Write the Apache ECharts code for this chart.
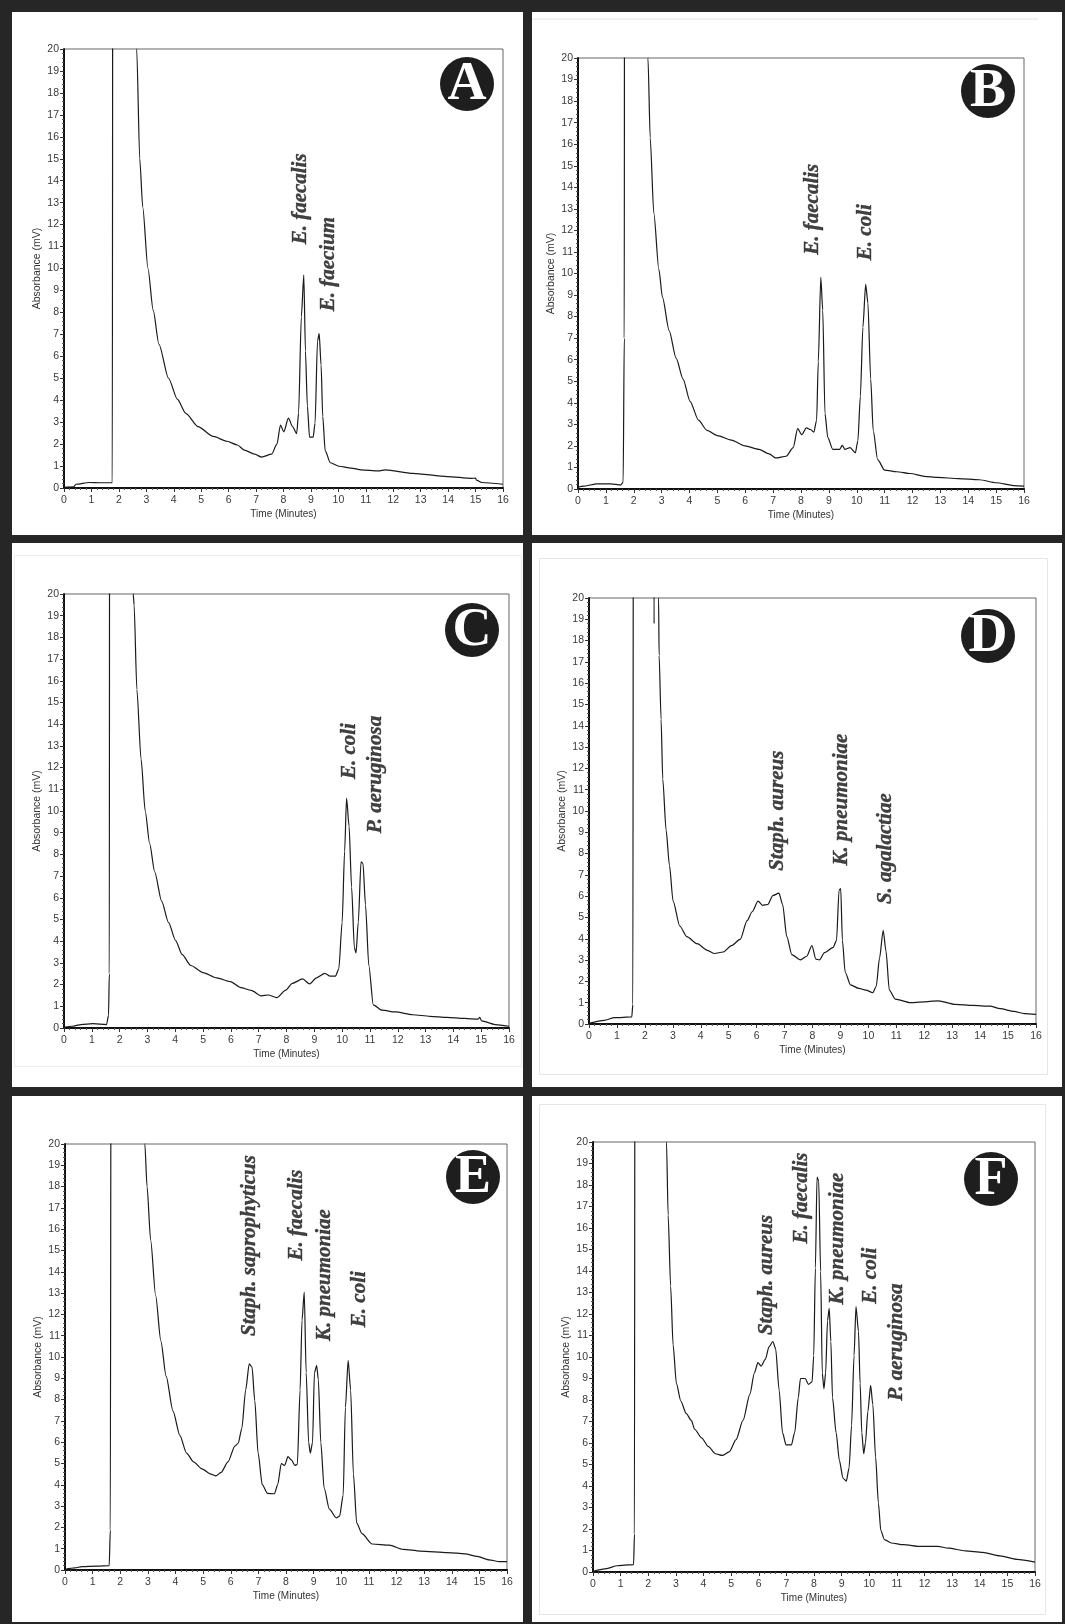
<!DOCTYPE html>
<html>
<head>
<meta charset="utf-8">
<title>HPLC chromatograms A-F</title>
<script src="https://cdn.jsdelivr.net/npm/echarts@6.0.0/dist/echarts.min.js"></script>
<style>
  html, body { margin: 0; padding: 0; background: #262626; }
  #chart { width: 1065px; height: 1624px; }
</style>
</head>
<body>
<div id="chart"></div>
<script>
// traces: [time (min), absorbance (mV)]; values above 20 are off-scale (clipped)
const traceA = [
  [0, 0.03], [0.36, 0.05], [0.43, 0.17], [0.93, 0.25], [1.3, 0.24], [1.76, 0.24], [1.78, 30],
  [2.64, 30], [2.65, 20], [2.76, 15], [2.87, 12.8], [3.06, 10], [3.25, 8.1], [3.46, 6.55],
  [3.81, 5.0], [4.13, 4.05], [4.44, 3.4], [4.88, 2.8], [5.44, 2.35], [5.94, 2.13], [6.32, 1.96],
  [6.57, 1.73], [6.95, 1.54], [7.2, 1.41], [7.57, 1.54], [7.76, 2.0], [7.89, 2.87], [8.01, 2.56],
  [8.18, 3.18], [8.33, 2.8], [8.48, 2.48], [8.55, 3.42], [8.65, 7.8], [8.74, 9.7], [8.8, 6.24],
  [8.87, 3.73], [8.95, 2.32], [9.08, 2.32], [9.15, 2.95], [9.24, 6.7], [9.3, 7.03], [9.37, 5.6],
  [9.43, 3.26], [9.52, 1.69], [9.71, 1.15], [10.02, 0.99], [10.46, 0.91], [10.83, 0.83],
  [11.46, 0.78], [11.71, 0.83], [12.71, 0.67], [13.97, 0.52], [14.85, 0.44], [15.0, 0.45],
  [15.03, 0.36], [15.22, 0.25], [16, 0.17]
];
const traceB = [
  [0, 0.08], [0.19, 0.13], [0.68, 0.24], [1.17, 0.24], [1.54, 0.19], [1.62, 0.32], [1.66, 7.0],
  [1.67, 30], [2.5, 30], [2.51, 20], [2.59, 16.3], [2.72, 12.8], [2.9, 10.2], [3.03, 8.9],
  [3.27, 7.35], [3.52, 6.07], [3.77, 5.1], [4.02, 4.07], [4.32, 3.2], [4.63, 2.72], [5.0, 2.48],
  [5.5, 2.27], [5.99, 2.0], [6.49, 1.84], [6.86, 1.63], [7.1, 1.44], [7.47, 1.52], [7.72, 1.92],
  [7.88, 2.8], [8.03, 2.52], [8.19, 2.84], [8.34, 2.76], [8.46, 2.64], [8.56, 3.19], [8.62, 5.9],
  [8.71, 9.82], [8.78, 8.3], [8.86, 3.51], [8.96, 2.4], [9.14, 1.84], [9.39, 1.84], [9.48, 2.03],
  [9.57, 1.84], [9.76, 1.92], [9.95, 1.68], [10.04, 2.24], [10.13, 4.31], [10.22, 7.5],
  [10.32, 9.5], [10.4, 8.63], [10.5, 5.11], [10.59, 2.72], [10.75, 1.36], [11.0, 0.88],
  [11.43, 0.8], [11.92, 0.72], [12.42, 0.59], [12.91, 0.54], [13.65, 0.48], [14.39, 0.43],
  [15.01, 0.29], [15.63, 0.16], [16, 0.13]
];
const traceC = [
  [0, 0.03], [0.3, 0.08], [0.61, 0.16], [1.04, 0.2], [1.53, 0.16], [1.6, 0.58], [1.63, 2.5],
  [1.64, 30], [2.47, 30], [2.49, 20], [2.52, 19.5], [2.62, 15.6], [2.77, 12.4], [2.92, 10],
  [3.08, 8.5], [3.26, 7.2], [3.51, 5.85], [3.76, 4.86], [4.01, 4.04], [4.25, 3.38], [4.56, 2.88],
  [5.0, 2.55], [5.49, 2.31], [5.98, 2.14], [6.36, 1.86], [6.73, 1.73], [7.1, 1.48], [7.34, 1.52],
  [7.65, 1.4], [7.96, 1.73], [8.21, 2.06], [8.58, 2.26], [8.83, 2.03], [9.08, 2.31], [9.38, 2.52],
  [9.57, 2.39], [9.76, 2.39], [9.88, 2.72], [10.0, 4.86], [10.09, 8.15], [10.16, 10.59],
  [10.25, 9.3], [10.34, 6.5], [10.44, 3.7], [10.5, 3.46], [10.58, 4.86], [10.68, 7.66],
  [10.75, 7.58], [10.84, 5.68], [10.96, 2.88], [11.12, 1.07], [11.43, 0.82], [11.92, 0.74],
  [12.54, 0.61], [13.16, 0.54], [13.77, 0.49], [14.39, 0.44], [14.89, 0.41], [14.95, 0.49],
  [15.01, 0.33], [15.5, 0.16], [16, 0.08]
];
const traceD = [
  [0, 0.03], [0.54, 0.17], [0.91, 0.3], [1.53, 0.33], [1.57, 0.92], [1.59, 30], [2.3, 30],
  [2.33, 18.8], [2.35, 30], [2.47, 30], [2.49, 20], [2.51, 17.3], [2.58, 14.3], [2.64, 11.5],
  [2.76, 9.1], [2.88, 7.45], [3.01, 5.77], [3.25, 4.6], [3.5, 4.1], [3.87, 3.77], [4.24, 3.46],
  [4.49, 3.31], [4.8, 3.38], [5.1, 3.68], [5.41, 3.97], [5.66, 4.85], [5.84, 5.27], [6.05, 5.77],
  [6.21, 5.57], [6.4, 5.61], [6.58, 6.03], [6.8, 6.14], [6.93, 5.61], [7.08, 4.1], [7.26, 3.26],
  [7.57, 3.01], [7.79, 3.18], [7.98, 3.68], [8.12, 3.05], [8.25, 3.01], [8.43, 3.35], [8.74, 3.6],
  [8.86, 3.93], [8.95, 6.28], [9.01, 6.36], [9.07, 3.93], [9.17, 2.43], [9.36, 1.84], [9.66, 1.67],
  [9.91, 1.59], [10.16, 1.47], [10.28, 1.76], [10.4, 3.1], [10.53, 4.4], [10.63, 3.43],
  [10.75, 1.59], [10.96, 1.17], [11.51, 1.0], [12.13, 1.05], [12.5, 1.09], [13.12, 0.92],
  [13.73, 0.87], [14.35, 0.84], [14.72, 0.72], [15.21, 0.59], [15.58, 0.49], [16, 0.45]
];
const traceE = [
  [0, 0.03], [0.36, 0.1], [0.61, 0.16], [1.17, 0.18], [1.6, 0.2], [1.64, 1.87], [1.67, 30],
  [2.87, 30], [2.89, 20], [2.97, 18], [3.1, 15.5], [3.28, 12.9], [3.47, 10.75], [3.66, 9.1],
  [3.91, 7.46], [4.16, 6.31], [4.4, 5.49], [4.65, 5.08], [4.96, 4.75], [5.28, 4.5], [5.46, 4.42],
  [5.65, 4.58], [5.9, 5.08], [6.15, 5.82], [6.27, 5.95], [6.4, 6.64], [6.54, 8.45], [6.67, 9.68],
  [6.77, 9.52], [6.87, 7.95], [6.99, 5.49], [7.14, 4.01], [7.33, 3.6], [7.58, 3.58], [7.7, 4.01],
  [7.83, 5.0], [7.95, 4.91], [8.07, 5.32], [8.2, 5.16], [8.32, 4.91], [8.41, 4.96], [8.51, 8.45],
  [8.58, 11.73], [8.66, 13.05], [8.73, 9.27], [8.82, 5.98], [8.88, 5.49], [8.96, 5.98],
  [9.03, 9.27], [9.11, 9.6], [9.17, 8.94], [9.26, 5.98], [9.38, 3.85], [9.57, 2.86], [9.82, 2.45],
  [9.94, 2.53], [10.07, 3.52], [10.15, 7.63], [10.25, 9.84], [10.34, 8.45], [10.44, 4.5],
  [10.56, 2.2], [10.75, 1.71], [11.12, 1.22], [11.74, 1.17], [12.24, 0.97], [12.86, 0.89],
  [13.86, 0.82], [14.48, 0.76], [14.92, 0.64], [15.35, 0.48], [15.73, 0.39], [16, 0.39]
];
const traceF = [
  [0, 0.03], [0.5, 0.16], [0.87, 0.29], [1.25, 0.33], [1.47, 0.34], [1.5, 1.76], [1.52, 30],
  [2.64, 30], [2.66, 20], [2.72, 16.6], [2.81, 13.3], [2.9, 10.55], [3.02, 8.76], [3.18, 7.95],
  [3.37, 7.38], [3.56, 7.05], [3.68, 6.64], [3.93, 6.24], [4.18, 5.83], [4.43, 5.5], [4.68, 5.42],
  [4.93, 5.59], [5.18, 6.16], [5.43, 7.05], [5.68, 8.27], [5.84, 9.25], [5.97, 9.74], [6.09, 9.58],
  [6.24, 9.9], [6.37, 10.47], [6.51, 10.72], [6.61, 10.39], [6.74, 8.44], [6.86, 6.48],
  [6.99, 5.91], [7.18, 5.91], [7.3, 6.48], [7.43, 8.11], [7.51, 9.0], [7.68, 9.0], [7.8, 8.73],
  [7.93, 8.84], [7.99, 10.07], [8.05, 14.14], [8.11, 18.37], [8.17, 18.2], [8.24, 13.97],
  [8.3, 9.25], [8.36, 8.52], [8.42, 9.25], [8.49, 11.69], [8.55, 12.26], [8.61, 10.72],
  [8.67, 8.11], [8.8, 6.48], [8.92, 5.18], [9.05, 4.36], [9.17, 4.23], [9.27, 4.85], [9.36, 6.81],
  [9.45, 10.07], [9.52, 12.35], [9.61, 11.2], [9.67, 8.76], [9.73, 6.48], [9.8, 5.5], [9.86, 5.99],
  [9.95, 7.46], [10.05, 8.68], [10.13, 7.78], [10.23, 5.34], [10.33, 3.22], [10.42, 1.92],
  [10.55, 1.51], [10.8, 1.35], [11.23, 1.27], [11.86, 1.19], [12.48, 1.19], [12.86, 1.11],
  [13.48, 0.98], [14.1, 0.91], [14.73, 0.75], [15.35, 0.59], [16, 0.46]
];

// peak labels: [time, absorbance where the text starts, name]
const peaksA = [[8.64, 11.1, 'E. faecalis'], [9.65, 8.05, 'E. faecium']];
const peaksB = [[8.40, 10.87, 'E. faecalis'], [10.32, 10.62, 'E. coli']];
const peaksC = [[10.28, 11.47, 'E. coli'], [11.22, 8.97, 'P. aeruginosa']];
const peaksD = [[6.75, 7.19, 'Staph. aureus'], [9.03, 7.44, 'K. pneumoniae'], [10.60, 5.63, 'S. agalactiae']];
const peaksE = [[6.68, 10.99, 'Staph. saprophyticus'], [8.39, 14.53, 'E. faecalis'],
  [9.40, 10.75, 'K. pneumoniae'], [10.67, 11.4, 'E. coli']];
const peaksF = [[6.29, 11.02, 'Staph. aureus'], [7.56, 15.28, 'E. faecalis'],
  [8.84, 12.44, 'K. pneumoniae'], [10.05, 12.48, 'E. coli'], [10.98, 7.96, 'P. aeruginosa']];

const panelLetters = ['A', 'B', 'C', 'D', 'E', 'F'];
const xTicks = [0, 16, 1];   // min, max, step (minutes)
const yTicks = [0, 20, 1];   // min, max, step (mV)

const traces = [traceA, traceB, traceC, traceD, traceE, traceF];
const peaks = [peaksA, peaksB, peaksC, peaksD, peaksE, peaksF];

// layout of each chromatogram (px)
const grids = [
  { left: 64, top: 49, width: 439, height: 439 },
  { left: 578, top: 58, width: 446, height: 431 },
  { left: 64, top: 594, width: 445, height: 434 },
  { left: 589, top: 598, width: 447, height: 426 },
  { left: 65, top: 1144, width: 442, height: 426 },
  { left: 593, top: 1142, width: 442, height: 430 }
];
const panels = [
  [12, 12, 511, 523], [532, 12, 530, 523],
  [12, 543, 511, 544], [532, 543, 530, 544],
  [12, 1096, 511, 526], [532, 1096, 530, 526]
];
const badges = [[467, 84], [988, 91], [472, 630], [988, 636], [473, 1177], [991, 1179]];

const tickFont = { fontFamily: 'Liberation Sans', fontSize: 10.5, color: '#3a3a3a' };

function makeX(i) {
  return {
    type: 'value', gridIndex: i,
    min: xTicks[0], max: xTicks[1], interval: xTicks[2],
    name: 'Time (Minutes)', nameLocation: 'middle', nameGap: 21,
    nameTextStyle: { fontFamily: 'Liberation Sans', fontSize: 10, color: '#333' },
    axisLine: { onZero: false, lineStyle: { color: '#111', width: 2 } },
    axisTick: { length: 4, lineStyle: { color: '#333' } },
    minorTick: { show: true, splitNumber: 5, length: 2, lineStyle: { color: '#555' } },
    axisLabel: Object.assign({ margin: 7 }, tickFont),
    splitLine: { show: false }
  };
}

function makeY(i) {
  return {
    type: 'value', gridIndex: i,
    min: yTicks[0], max: yTicks[1], interval: yTicks[2],
    name: 'Absorbance (mV)', nameLocation: 'middle', nameGap: 21,
    nameTextStyle: { fontFamily: 'Liberation Sans', fontSize: 10.5, color: '#333' },
    axisLine: { onZero: false, lineStyle: { color: '#111', width: 2 } },
    axisTick: { length: 4, lineStyle: { color: '#333' } },
    minorTick: { show: true, splitNumber: 5, length: 2, lineStyle: { color: '#555' } },
    axisLabel: Object.assign({ margin: 5 }, tickFont),
    splitLine: { show: false }
  };
}

const series = [];
traces.forEach((trace, i) => {
  series.push({
    type: 'line',
    xAxisIndex: i, yAxisIndex: i,
    data: trace,
    showSymbol: false,
    clip: true,
    smooth: 0.25,
    smoothMonotone: 'x',
    lineStyle: { color: '#1a1a1a', width: 1.2 },
    z: 3
  });
  series.push({
    type: 'scatter',
    xAxisIndex: i, yAxisIndex: i,
    data: peaks[i],
    symbolSize: 0,
    silent: true,
    label: {
      show: true,
      position: 'inside',
      rotate: 90,
      align: 'left',
      verticalAlign: 'middle',
      formatter: p => p.value[2],
      fontFamily: 'Liberation Serif',
      fontStyle: 'italic',
      fontWeight: 'bold',
      fontSize: 21,
      color: '#111',
      textBorderColor: '#111',
      textBorderWidth: 0.4
    },
    z: 4
  });
});

const graphic = [];
panels.forEach(p => {
  graphic.push({
    type: 'rect', z: -100, silent: true,
    shape: { x: p[0], y: p[1], width: p[2], height: p[3] },
    style: { fill: '#ffffff' }
  });
});
// faint frames left over from the original screenshots
graphic.push({ type: 'line', z: -90, silent: true, shape: { x1: 532, y1: 19, x2: 1038, y2: 19 }, style: { stroke: '#e2e2e2', lineWidth: 1 } });
graphic.push({ type: 'rect', z: -90, silent: true, shape: { x: 14.5, y: 555.5, width: 507, height: 511 }, style: { fill: null, stroke: '#ececec', lineWidth: 1 } });
graphic.push({ type: 'rect', z: -90, silent: true, shape: { x: 539.5, y: 558.5, width: 508, height: 516 }, style: { fill: null, stroke: '#e6e6e6', lineWidth: 1 } });
graphic.push({ type: 'rect', z: -90, silent: true, shape: { x: 539.5, y: 1104.5, width: 506, height: 510 }, style: { fill: null, stroke: '#e6e6e6', lineWidth: 1 } });

badges.forEach((b, i) => {
  graphic.push({
    type: 'circle', z: 100, silent: true,
    shape: { cx: b[0], cy: b[1], r: 27 },
    style: { fill: '#1e1e1e' }
  });
  graphic.push({
    type: 'text', z: 101, silent: true,
    x: b[0], y: b[1] + 1,
    style: {
      text: panelLetters[i],
      fill: '#ffffff',
      font: 'bold 54px "Liberation Serif"',
      textAlign: 'center', textVerticalAlign: 'middle',
      align: 'center', verticalAlign: 'middle'
    }
  });
});

const chart = echarts.init(document.getElementById('chart'), null, { renderer: 'canvas' });
chart.setOption({
  backgroundColor: '#262626',
  animation: false,
  grid: grids.map(g => Object.assign({
    show: true, backgroundColor: 'transparent', borderColor: '#666', borderWidth: 1
  }, g)),
  xAxis: grids.map((g, i) => makeX(i)),
  yAxis: grids.map((g, i) => makeY(i)),
  series: series,
  graphic: graphic
});
</script>
</body>
</html>
